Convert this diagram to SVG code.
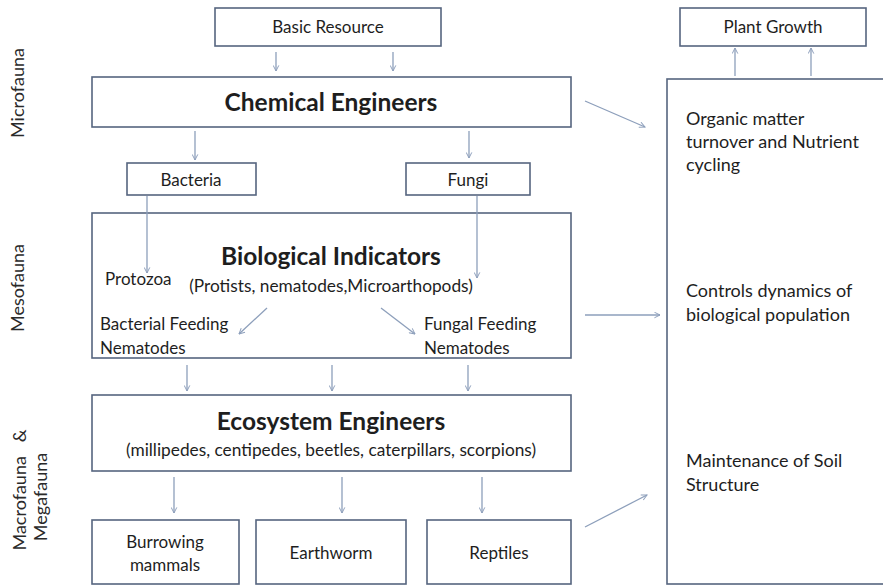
<svg xmlns="http://www.w3.org/2000/svg" width="883" height="585" viewBox="0 0 883 585">
<defs>
<style>
.box{fill:#ffffff;stroke:#56657f;stroke-width:1.6}
.arr{fill:none;stroke:#8d9fbb;stroke-width:1.3;marker-end:url(#ah)}
text{font-family:Lato,"Liberation Sans",sans-serif;fill:#1e1e1e}
.t{font-size:17px}
.s{font-size:17.3px}
.m{font-size:18px}
.h{font-size:24.5px;font-weight:bold}
.side{font-size:18px;fill:#2a2a2a}
</style>
<marker id="ah" viewBox="0 0 10 10" refX="9" refY="5" markerWidth="7" markerHeight="7" orient="auto" markerUnits="userSpaceOnUse">
<path d="M1,1 L9,5 L1,9" fill="none" stroke="#8d9fbb" stroke-width="1.4"/>
</marker>
</defs>
<rect width="883" height="585" fill="#ffffff"/>

<g id="side-labels">
<text class="side" transform="translate(24,93) rotate(-90)" text-anchor="middle">Microfauna</text>
<text class="side" transform="translate(24,288) rotate(-90)" text-anchor="middle">Mesofauna</text>
<text class="side" transform="translate(26,490) rotate(-90)" text-anchor="middle">Macrofauna&#160;&#160;&#160;&amp;</text>
<text class="side" transform="translate(47,497) rotate(-90)" text-anchor="middle">Megafauna</text>
</g>

<g id="basic-resource">
<rect class="box" x="215" y="8" width="226" height="38"/>
<text class="t" x="328" y="33" text-anchor="middle">Basic Resource</text>
</g>

<g id="plant-growth">
<rect class="box" x="680" y="8" width="186" height="38"/>
<text class="t" x="773" y="33" text-anchor="middle">Plant Growth</text>
</g>

<g id="chemical-engineers">
<rect class="box" x="92" y="77" width="479" height="50"/>
<text class="h" x="331" y="111" text-anchor="middle">Chemical Engineers</text>
</g>

<g id="bacteria">
<rect class="box" x="127" y="163" width="129" height="32"/>
<text class="t" x="191" y="186" text-anchor="middle">Bacteria</text>
</g>

<g id="fungi">
<rect class="box" x="406" y="163" width="124" height="32"/>
<text class="t" x="468" y="186" text-anchor="middle">Fungi</text>
</g>

<g id="functions">
<rect class="box" x="667" y="79" width="230" height="505"/>
<text class="m" x="686" y="125">Organic matter</text>
<text class="m" x="686" y="148">turnover and Nutrient</text>
<text class="m" x="686" y="171">cycling</text>
<text class="m" x="686" y="297">Controls dynamics of</text>
<text class="m" x="686" y="321">biological population</text>
<text class="m" x="686" y="467">Maintenance of Soil</text>
<text class="m" x="686" y="491">Structure</text>
</g>

<g id="biological-indicators">
<rect class="box" x="92" y="213" width="479" height="145"/>
<text class="h" x="331" y="265" text-anchor="middle">Biological Indicators</text>
<text class="s" x="331" y="292" text-anchor="middle">(Protists, nematodes,Microarthopods)</text>
<text class="t" x="105" y="285">Protozoa</text>
<text class="t" x="100" y="330">Bacterial Feeding</text>
<text class="t" x="100" y="354">Nematodes</text>
<text class="t" x="424" y="330">Fungal Feeding</text>
<text class="t" x="424" y="354">Nematodes</text>
</g>

<g id="ecosystem-engineers">
<rect class="box" x="92" y="395" width="479" height="76"/>
<text class="h" x="331" y="430" text-anchor="middle">Ecosystem Engineers</text>
<text class="s" x="331" y="456" text-anchor="middle">(millipedes, centipedes, beetles, caterpillars, scorpions)</text>
</g>

<g id="burrowing-mammals">
<rect class="box" x="92" y="520" width="147" height="64"/>
<text class="t" x="165" y="548" text-anchor="middle">Burrowing</text>
<text class="t" x="165" y="571" text-anchor="middle">mammals</text>
</g>

<g id="earthworm">
<rect class="box" x="256" y="520" width="150" height="64"/>
<text class="t" x="331" y="559" text-anchor="middle">Earthworm</text>
</g>

<g id="reptiles">
<rect class="box" x="427" y="520" width="144" height="64"/>
<text class="t" x="499" y="559" text-anchor="middle">Reptiles</text>
</g>

<g id="connectors">
<line class="arr" x1="276" y1="52" x2="276" y2="71"/>
<line class="arr" x1="393" y1="52" x2="393" y2="71"/>
<line class="arr" x1="195" y1="131" x2="195" y2="160"/>
<line class="arr" x1="469" y1="131" x2="469" y2="158"/>
<line class="arr" x1="735" y1="76" x2="735" y2="48"/>
<line class="arr" x1="811" y1="76" x2="811" y2="48"/>
<line class="arr" x1="585" y1="101" x2="645" y2="127"/>
<line class="arr" x1="147" y1="196" x2="147" y2="273"/>
<line class="arr" x1="477" y1="196" x2="477" y2="278"/>
<line class="arr" x1="267" y1="308" x2="239" y2="334"/>
<line class="arr" x1="381" y1="308" x2="415" y2="334"/>
<line class="arr" x1="585" y1="315" x2="660" y2="315"/>
<line class="arr" x1="187" y1="365" x2="187" y2="391"/>
<line class="arr" x1="332" y1="365" x2="332" y2="391"/>
<line class="arr" x1="468" y1="365" x2="468" y2="391"/>
<line class="arr" x1="174" y1="477" x2="174" y2="513"/>
<line class="arr" x1="342" y1="477" x2="342" y2="513"/>
<line class="arr" x1="482" y1="477" x2="482" y2="513"/>
<line class="arr" x1="585" y1="527" x2="647" y2="495"/>
</g>
</svg>
